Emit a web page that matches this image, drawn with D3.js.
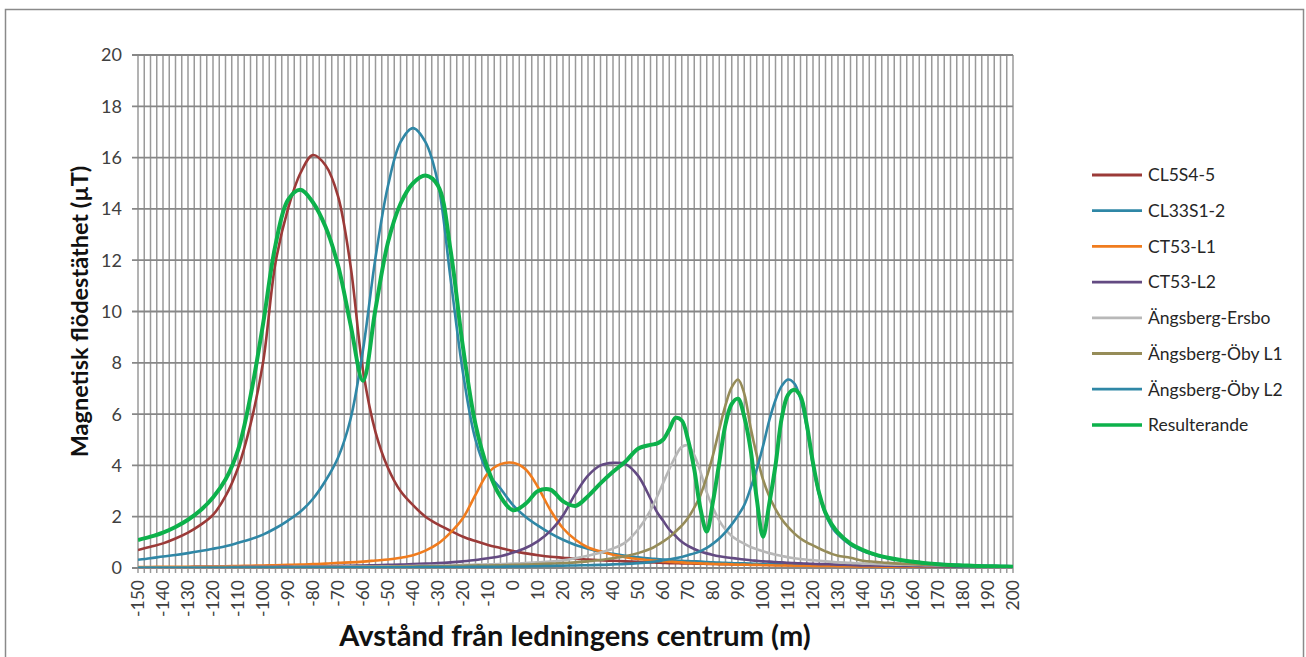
<!DOCTYPE html>
<html>
<head>
<meta charset="utf-8">
<script src="https://cdn.jsdelivr.net/npm/d3@7"></script>
<style>
  body { margin: 0; background: #fff; }
  svg { display: block; font-family: Lato, "Open Sans", sans-serif; }
</style>
</head>
<body>
<svg></svg>
<script>
// Window size
const width = 1306;
const height = 657;

// Distance from the line centre (m)
const distances = [
  -150,-145,-140,-135,-130,-125,-120,-115,-110,-105,
  -100,-95,-90,-85,-80,-75,-70,-65,-60,-55,
  -50,-45,-40,-35,-30,-25,-20,-15,-10,-5,
  0,5,10,15,20,25,30,35,40,45,
  50,55,
  57.5,60,62.5,65,67.5,70,72.5,75,77.5,80,
  82.5,85,87.5,90,92.5,95,97.5,100,102.5,105,
  107.5,110,112.5,115,117.5,120,122.5,125,127.5,
  130,135,140,145,150,155,160,165,170,175,
  180,185,190,195,200
];

// Flux density per line (µT)
const cl5s45 = [
  0.70,0.83,0.96,1.15,1.38,1.68,2.07,2.8,3.9,5.6,
  8.0,11.9,14.0,15.4,16.1,15.7,14.5,11.8,7.7,5.3,
  3.9,3.0,2.45,2.0,1.7,1.45,1.22,1.05,0.9,0.78,
  0.66,0.57,0.5,0.44,0.4,0.36,0.33,0.3,0.28,0.26,
  0.24,0.22,
  0.21,0.2,0.19,0.19,0.18,0.18,0.17,0.17,0.16,0.16,
  0.15,0.15,0.14,0.14,0.14,0.13,0.13,0.13,0.12,0.12,
  0.12,0.11,0.11,0.11,0.11,0.1,0.1,0.1,0.1,
  0.09,0.09,0.08,0.08,0.07,0.07,0.07,0.06,0.06,0.06,
  0.05,0.05,0.05,0.05,0.05
];
const cl33s12 = [
  0.32,0.38,0.45,0.51,0.58,0.66,0.75,0.85,0.98,1.12,
  1.3,1.55,1.85,2.2,2.7,3.4,4.3,5.8,8.5,12.1,
  14.9,16.6,17.15,16.6,15.0,11.3,7.6,5.0,3.7,3.1,
  2.45,2.0,1.65,1.35,1.1,0.9,0.75,0.63,0.55,0.48,
  0.42,0.37,
  0.35,0.33,0.31,0.29,0.28,0.27,0.26,0.25,0.23,0.22,
  0.21,0.2,0.19,0.18,0.18,0.17,0.16,0.15,0.15,0.14,
  0.14,0.13,0.13,0.12,0.12,0.11,0.11,0.11,0.1,
  0.1,0.09,0.09,0.08,0.08,0.07,0.07,0.06,0.06,0.06,
  0.05,0.05,0.05,0.05,0.04
];
const ct53l1 = [
  0.04,0.04,0.05,0.05,0.05,0.06,0.06,0.07,0.08,0.09,
  0.1,0.11,0.12,0.13,0.15,0.17,0.2,0.22,0.25,0.29,
  0.33,0.4,0.5,0.68,0.95,1.38,1.95,2.85,3.7,4.05,
  4.1,3.85,3.15,2.25,1.55,1.1,0.8,0.65,0.52,0.42,
  0.35,0.3,
  0.28,0.26,0.25,0.23,0.22,0.2,0.19,0.18,0.17,0.16,
  0.15,0.15,0.14,0.13,0.13,0.12,0.12,0.11,0.11,0.1,
  0.1,0.1,0.09,0.09,0.09,0.08,0.08,0.08,0.08,
  0.07,0.07,0.06,0.06,0.05,0.05,0.05,0.04,0.04,0.04,
  0.04,0.03,0.03,0.03,0.03
];
const ct53l2 = [
  0.03,0.03,0.03,0.03,0.03,0.04,0.04,0.04,0.04,0.05,
  0.05,0.05,0.06,0.06,0.07,0.07,0.08,0.09,0.1,0.11,
  0.12,0.13,0.15,0.17,0.19,0.22,0.26,0.31,0.38,0.46,
  0.6,0.78,1.05,1.45,2.05,2.9,3.6,4.0,4.1,4.05,
  3.6,2.7,
  2.2,1.85,1.5,1.25,1.02,0.86,0.74,0.64,0.57,0.51,
  0.46,0.42,0.39,0.36,0.33,0.3,0.28,0.26,0.25,0.23,
  0.22,0.2,0.19,0.18,0.17,0.16,0.15,0.15,0.14,
  0.13,0.12,0.1,0.1,0.09,0.08,0.08,0.07,0.06,0.06,
  0.05,0.05,0.05,0.05,0.04
];
const ersbo = [
  0.03,0.03,0.03,0.03,0.03,0.03,0.03,0.04,0.04,0.04,
  0.04,0.04,0.04,0.05,0.05,0.05,0.05,0.06,0.06,0.06,
  0.07,0.07,0.08,0.09,0.09,0.1,0.12,0.13,0.14,0.15,
  0.17,0.19,0.22,0.25,0.3,0.38,0.48,0.6,0.76,1.0,
  1.5,2.25,
  2.75,3.3,3.85,4.35,4.72,4.78,4.4,3.75,2.95,2.35,
  1.85,1.5,1.25,1.08,0.95,0.82,0.73,0.65,0.58,0.52,
  0.47,0.42,0.38,0.35,0.32,0.3,0.28,0.26,0.24,
  0.22,0.2,0.17,0.16,0.14,0.13,0.12,0.11,0.1,0.09,
  0.08,0.08,0.07,0.07,0.06
];
const obyL1 = [
  0.02,0.02,0.02,0.02,0.02,0.02,0.03,0.03,0.03,0.03,
  0.03,0.03,0.03,0.04,0.04,0.04,0.04,0.04,0.05,0.05,
  0.05,0.06,0.06,0.07,0.07,0.08,0.09,0.1,0.1,0.11,
  0.12,0.13,0.15,0.17,0.19,0.22,0.26,0.31,0.38,0.46,
  0.58,0.75,
  0.88,1.03,1.2,1.42,1.65,1.95,2.35,2.85,3.55,4.4,
  5.4,6.35,7.05,7.35,6.8,5.5,4.4,3.45,2.8,2.3,
  1.9,1.6,1.35,1.15,1.0,0.88,0.76,0.65,0.55,
  0.48,0.4,0.28,0.24,0.2,0.17,0.15,0.13,0.12,0.1,
  0.09,0.08,0.07,0.07,0.06
];
const obyL2 = [
  0.01,0.01,0.01,0.01,0.01,0.01,0.01,0.01,0.02,0.02,
  0.02,0.02,0.02,0.02,0.02,0.02,0.02,0.03,0.03,0.03,
  0.03,0.03,0.03,0.04,0.04,0.04,0.04,0.05,0.05,0.05,
  0.06,0.06,0.07,0.08,0.09,0.1,0.11,0.12,0.14,0.16,
  0.19,0.23,
  0.26,0.3,0.34,0.38,0.43,0.5,0.57,0.66,0.78,0.95,
  1.15,1.4,1.7,2.05,2.45,3.1,3.85,4.75,5.75,6.55,
  7.1,7.35,7.2,6.6,5.5,4.0,2.85,2.1,1.6,
  1.3,0.9,0.66,0.5,0.38,0.3,0.24,0.19,0.16,0.13,
  0.11,0.1,0.09,0.08,0.07
];
const resulterande = [
  1.09,1.22,1.38,1.6,1.88,2.25,2.75,3.45,4.6,6.7,
  9.5,12.6,14.35,14.75,14.25,13.3,11.8,9.5,7.3,10.1,
  12.7,14.2,15.0,15.3,14.9,12.4,8.6,5.6,3.85,2.78,
  2.25,2.5,3.0,3.05,2.6,2.42,2.8,3.3,3.75,4.15,
  4.65,4.8,
  4.85,5.0,5.4,5.85,5.75,5.0,3.85,2.3,1.42,2.6,
  4.1,5.6,6.4,6.6,5.9,4.65,2.7,1.22,2.5,4.0,
  5.85,6.75,6.95,6.7,5.6,4.1,2.9,2.15,1.7,
  1.38,0.95,0.7,0.52,0.4,0.31,0.24,0.19,0.15,0.12,
  0.1,0.08,0.07,0.06,0.05
];

const seriesNames = ["CL5S4-5", "CL33S1-2", "CT53-L1", "CT53-L2",
  "Ängsberg-Ersbo", "Ängsberg-Öby L1", "Ängsberg-Öby L2", "Resulterande"];
const seriesValues = [cl5s45, cl33s12, ct53l1, ct53l2, ersbo, obyL1, obyL2, resulterande];
const seriesColors = ["#9b3a38", "#2f87a6", "#f07c1e", "#634a82",
  "#b8b8b8", "#968c58", "#2f87a6", "#0db14b"];

// Tick labels
const xTicks = d3.range(-150, 201, 10);
const xGrid = d3.range(-150, 200.1, 2.5);
const yTicks = [0, 2, 4, 6, 8, 10, 12, 14, 16, 18, 20];

const svg = d3.select("svg")
    .attr("width", width)
    .attr("height", height);

// Chart frame
svg.append("rect")
    .attr("x", 5.5).attr("y", 9.5)
    .attr("width", 1298).attr("height", 660)
    .attr("fill", "#fff")
    .attr("stroke", "#8a8a8a")
    .attr("stroke-width", 1.5);

const plot = { left: 138, right: 1013, top: 55, bottom: 568 };

const x = d3.scaleLinear().domain([-150, 200]).range([plot.left, plot.right]);
const y = d3.scaleLinear().domain([0, 20]).range([plot.bottom, plot.top]);

// Vertical grid lines (every category) with small ticks below
svg.append("g")
    .selectAll("line")
    .data(xGrid)
    .enter()
    .append("line")
    .attr("x1", d => x(d)).attr("x2", d => x(d))
    .attr("y1", plot.top).attr("y2", plot.bottom + 5)
    .attr("stroke", "#9a9a9a")
    .attr("stroke-width", 1.5);

// Horizontal grid lines
svg.append("g")
    .selectAll("line")
    .data(yTicks)
    .enter()
    .append("line")
    .attr("x1", plot.left - 6).attr("x2", plot.right)
    .attr("y1", d => y(d)).attr("y2", d => y(d))
    .attr("stroke", "#878787")
    .attr("stroke-width", 1.8);

// Y tick labels
svg.append("g")
    .selectAll("text")
    .data(yTicks)
    .enter()
    .append("text")
    .attr("x", plot.left - 16)
    .attr("y", d => y(d))
    .attr("dy", "0.36em")
    .attr("text-anchor", "end")
    .style("font-size", "18px")
    .style("fill", "#404040")
    .text(d => d);

// X tick labels, rotated
svg.append("g")
    .selectAll("text")
    .data(xTicks)
    .enter()
    .append("text")
    .attr("transform", d => `translate(${x(d)},${plot.bottom + 12}) rotate(-90)`)
    .attr("dy", "0.36em")
    .attr("text-anchor", "end")
    .style("font-size", "17.5px")
    .style("fill", "#404040")
    .text(d => d);

// Axis titles
svg.append("text")
    .attr("transform", `translate(80,${(plot.top + plot.bottom) / 2}) rotate(-90)`)
    .attr("text-anchor", "middle")
    .attr("dy", "0.36em")
    .style("font-size", "23.5px")
    .style("font-weight", "bold")
    .style("fill", "#111")
    .text("Magnetisk flödestäthet (µT)");

svg.append("text")
    .attr("x", 575)
    .attr("y", 646)
    .attr("text-anchor", "middle")
    .style("font-size", "29px")
    .style("font-weight", "bold")
    .style("fill", "#111")
    .text("Avstånd från ledningens centrum (m)");

// Curves
svg.append("clipPath").attr("id", "clip")
    .append("rect")
    .attr("x", plot.left).attr("y", plot.top - 5)
    .attr("width", plot.right - plot.left + 4)
    .attr("height", plot.bottom - plot.top + 5);

const line = d3.line()
    .x(d => x(d[0]))
    .y(d => y(d[1]))
    .curve(d3.curveCatmullRom.alpha(0.5));

const curveGroup = svg.append("g").attr("clip-path", "url(#clip)");
seriesValues.forEach((vals, i) => {
    curveGroup.append("path")
        .datum(distances.map((d, j) => [d, vals[j]]))
        .attr("d", line)
        .attr("fill", "none")
        .attr("stroke", seriesColors[i])
        .attr("stroke-width", i === 7 ? 4 : 2.6)
        .attr("stroke-linejoin", "round");
});

// Legend
const legend = svg.append("g").attr("transform", "translate(1092,175)");
seriesNames.forEach((name, i) => {
    const row = legend.append("g").attr("transform", `translate(0,${i * 35.7})`);
    row.append("line")
        .attr("x1", 0).attr("x2", 50)
        .attr("stroke", seriesColors[i])
        .attr("stroke-width", i === 7 ? 3.5 : 2.8);
    row.append("text")
        .attr("x", 56)
        .attr("dy", "0.36em")
        .style("font-size", "17.5px")
        .style("fill", "#262626")
        .text(name);
});
</script>
</body>
</html>
